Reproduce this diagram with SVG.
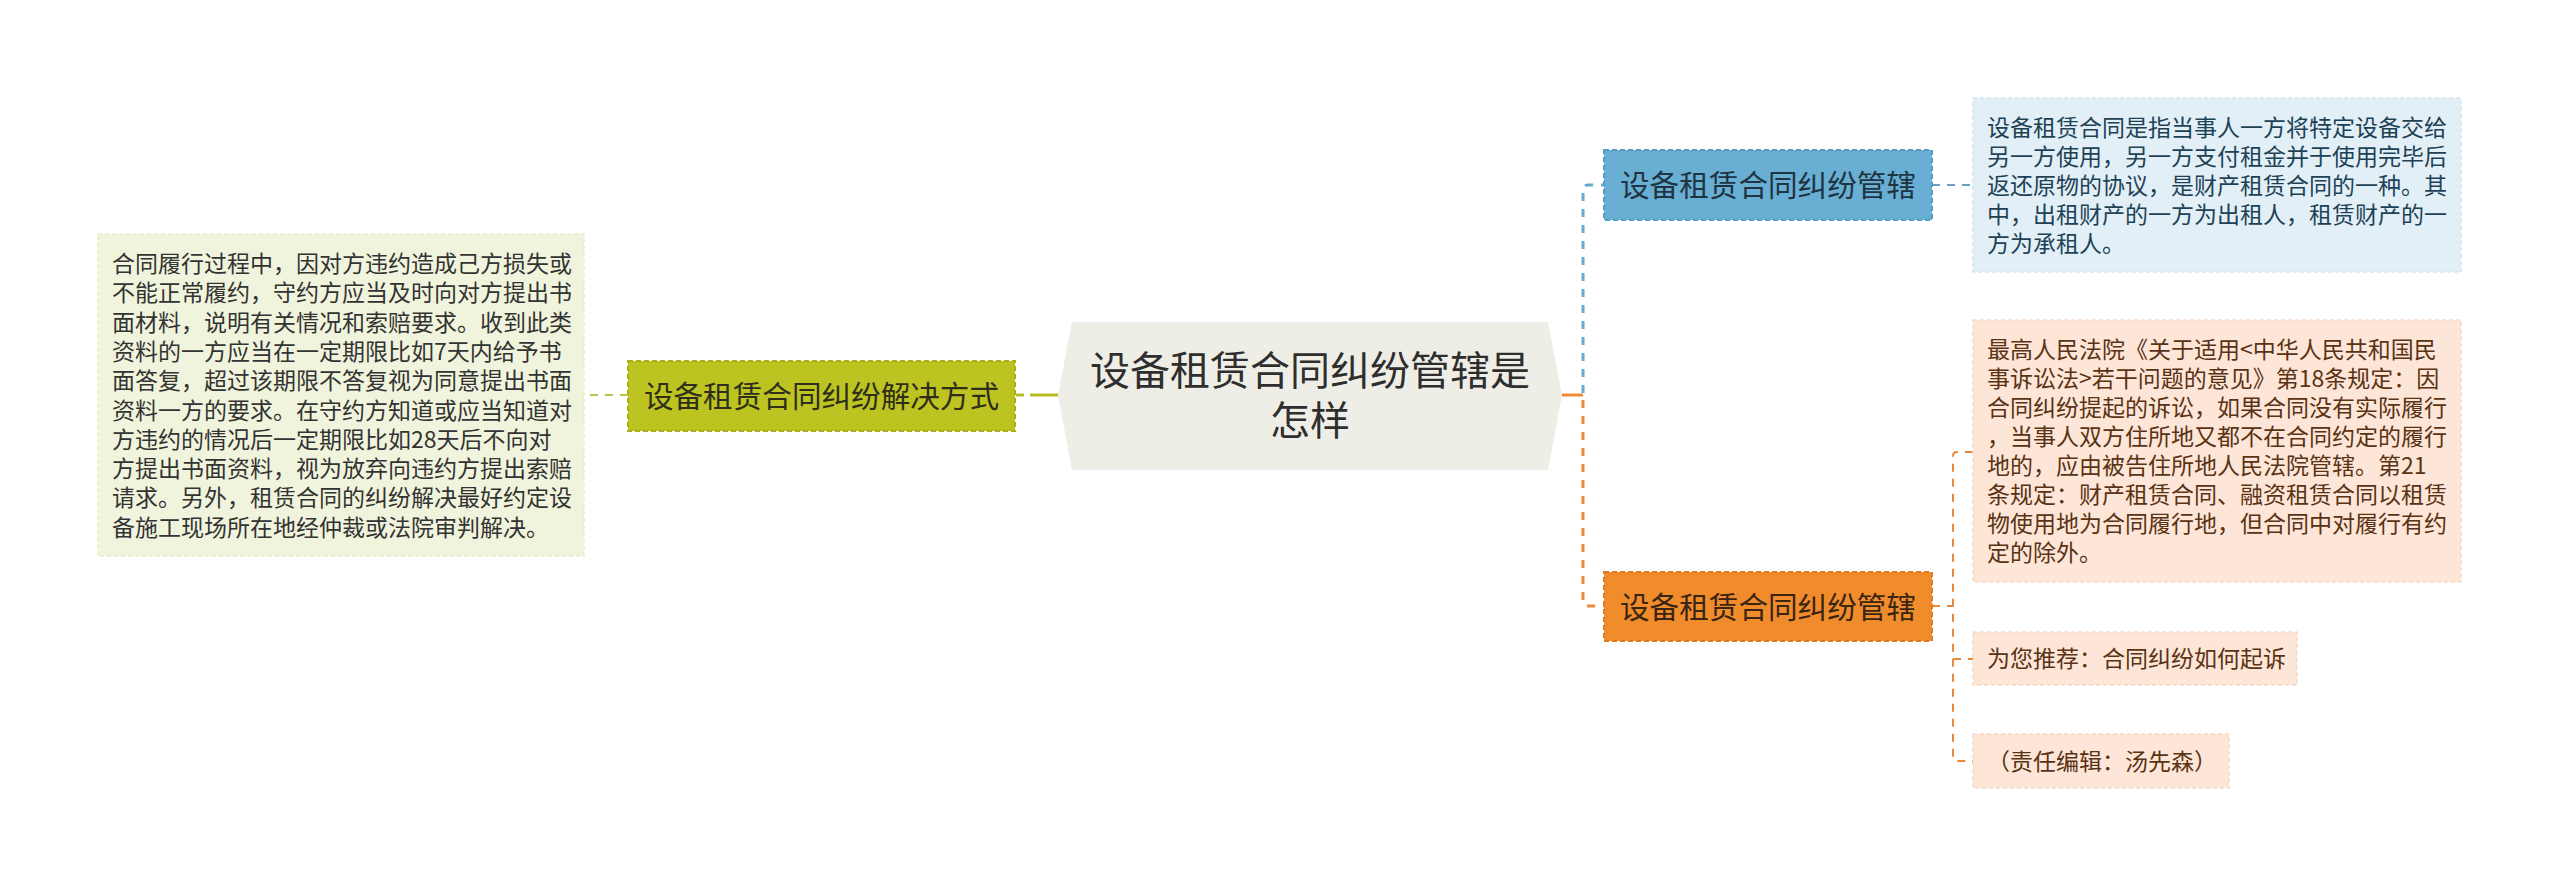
<svg xmlns="http://www.w3.org/2000/svg" width="2560" height="887" viewBox="0 0 2560 887">
<style>
text{font-family:"Noto Sans CJK SC","Noto Sans",sans-serif}
.box{font-size:23px}
.node{font-size:29.6px}
.c{stroke-width:2;fill:none;stroke-dasharray:8 7}
.trunk{stroke-width:3;fill:none;stroke-dasharray:8 8}
</style>
<rect width="2560" height="887" fill="#ffffff"/>
<g id="connectors">
<path d="M1058,395 H1015" stroke="#b7be22" stroke-width="3" fill="none" stroke-dasharray="28 6 8 8"/>
<path class="c" d="M628,395 H584" stroke="#bcc24a"/>
<path d="M1562,395 H1583" stroke="#ec8a35" stroke-width="3" fill="none"/>
<path class="trunk" d="M1583,393 V190 Q1583,185 1588,185 H1604" stroke="#6aaad0"/>
<path class="trunk" d="M1583,400 V601 Q1583,606 1588,606 H1604" stroke="#ec8a35"/>
<path class="c" d="M1932,185 H1973" stroke="#6aa0c0"/>
<path class="c" d="M1932,606 H1953" stroke="#e8883a"/>
<path class="c" d="M1973,452 H1957 Q1953,452 1953,456 V757 Q1953,761 1957,761 H1973" stroke="#e8883a"/>
<path class="c" d="M1953,659 H1973" stroke="#e8883a"/>
</g>
<g id="root">
<polygon points="1058,395 1072,322 1548,322 1562,395 1548,470 1072,470" fill="#efeee6"/>
<text font-size="40" text-anchor="middle" fill="#2e2e2e"><tspan x="1310" y="385">设备租赁合同纠纷管辖是</tspan><tspan x="1310" y="435">怎样</tspan></text>
</g>
<g id="node-left">
<rect x="628" y="361" width="387" height="70" fill="#bdc421" stroke="#a9af17" stroke-width="2" stroke-dasharray="5 3"/>
<text class="node" x="821.5" y="407" text-anchor="middle" fill="#2e2e1a">设备租赁合同纠纷解决方式</text>
</g>
<g id="text-left">
<rect x="98" y="234" width="486" height="322" fill="#f1f4dc" stroke="#e8ecc8" stroke-width="1.5" stroke-dasharray="4 3"/>
<text class="box" fill="#333333">
<tspan x="112" y="272">合同履行过程中，因对方违约造成己方损失或</tspan>
<tspan x="112" dy="29.3">不能正常履约，守约方应当及时向对方提出书</tspan>
<tspan x="112" dy="29.3">面材料，说明有关情况和索赔要求。收到此类</tspan>
<tspan x="112" dy="29.3">资料的一方应当在一定期限比如7天内给予书</tspan>
<tspan x="112" dy="29.3">面答复，超过该期限不答复视为同意提出书面</tspan>
<tspan x="112" dy="29.3">资料一方的要求。在守约方知道或应当知道对</tspan>
<tspan x="112" dy="29.3">方违约的情况后一定期限比如28天后不向对</tspan>
<tspan x="112" dy="29.3">方提出书面资料，视为放弃向违约方提出索赔</tspan>
<tspan x="112" dy="29.3">请求。另外，租赁合同的纠纷解决最好约定设</tspan>
<tspan x="112" dy="29.3">备施工现场所在地经仲裁或法院审判解决。</tspan>
</text>
</g>
<g id="node-blue">
<rect x="1604" y="150" width="328" height="70" fill="#69aed3" stroke="#5a9bc0" stroke-width="2" stroke-dasharray="5 3"/>
<text class="node" x="1768" y="196" text-anchor="middle" fill="#1e3442">设备租赁合同纠纷管辖</text>
</g>
<g id="text-blue">
<rect x="1973" y="98" width="488" height="174" fill="#e2eff7" stroke="#d3e5f0" stroke-width="1.5" stroke-dasharray="4 3"/>
<text class="box" fill="#1d4256">
<tspan x="1987" y="136">设备租赁合同是指当事人一方将特定设备交给</tspan>
<tspan x="1987" dy="29">另一方使用，另一方支付租金并于使用完毕后</tspan>
<tspan x="1987" dy="29">返还原物的协议，是财产租赁合同的一种。其</tspan>
<tspan x="1987" dy="29">中，出租财产的一方为出租人，租赁财产的一</tspan>
<tspan x="1987" dy="29">方为承租人。</tspan>
</text>
</g>
<g id="node-orange">
<rect x="1604" y="572" width="328" height="69" fill="#f18c2c" stroke="#e07c1f" stroke-width="2" stroke-dasharray="5 3"/>
<text class="node" x="1768" y="618" text-anchor="middle" fill="#3a2412">设备租赁合同纠纷管辖</text>
</g>
<g id="text-orange-1">
<rect x="1973" y="320" width="488" height="262" fill="#fde6d7" stroke="#f6d9c6" stroke-width="1.5" stroke-dasharray="4 3"/>
<text class="box" fill="#5a3214">
<tspan x="1987" y="358">最高人民法院《关于适用&lt;中华人民共和国民</tspan>
<tspan x="1987" dy="29">事诉讼法&gt;若干问题的意见》第18条规定：因</tspan>
<tspan x="1987" dy="29">合同纠纷提起的诉讼，如果合同没有实际履行</tspan>
<tspan x="1987" dy="29">，当事人双方住所地又都不在合同约定的履行</tspan>
<tspan x="1987" dy="29">地的，应由被告住所地人民法院管辖。第21</tspan>
<tspan x="1987" dy="29">条规定：财产租赁合同、融资租赁合同以租赁</tspan>
<tspan x="1987" dy="29">物使用地为合同履行地，但合同中对履行有约</tspan>
<tspan x="1987" dy="29">定的除外。</tspan>
</text>
</g>
<g id="text-orange-2">
<rect x="1973" y="632" width="324" height="53" fill="#fde6d7" stroke="#f6d9c6" stroke-width="1.5" stroke-dasharray="4 3"/>
<text class="box" x="1987" y="667" fill="#5a3214">为您推荐：合同纠纷如何起诉</text>
</g>
<g id="text-orange-3">
<rect x="1973" y="734" width="256" height="54" fill="#fde6d7" stroke="#f6d9c6" stroke-width="1.5" stroke-dasharray="4 3"/>
<text class="box" x="1987" y="770" fill="#5a3214">（责任编辑：汤先森）</text>
</g>
</svg>
